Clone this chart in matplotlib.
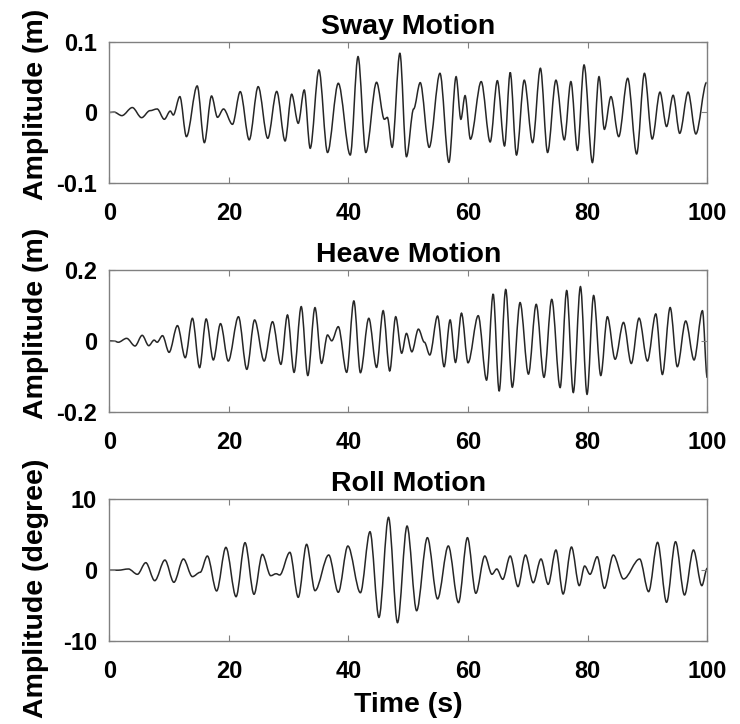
import matplotlib
matplotlib.use("Agg")
import matplotlib.pyplot as plt
from matplotlib.path import Path
from matplotlib.patches import PathPatch

# extrema (time in s, value)
sway_t = [0, 0.8, 2.1, 3.85, 5.4, 6.8, 8.0, 9.2, 10.2, 10.7, 11.8, 12.9, 14.7, 15.9,
          17.1, 18.1, 19.1, 20.6, 21.9, 23.4, 24.9, 26.5, 28.0, 29.4, 30.5, 31.6,
          32.6, 33.6, 35.06, 36.5, 38.3, 40.3, 41.6, 42.9, 44.7, 46.0, 46.5, 47.3,
          48.6, 49.7, 50.9, 52.0, 53.5, 55.3, 56.8, 58.0, 58.8, 59.5, 60.4, 62.2,
          63.7, 64.9, 66.1, 67.05, 68.1, 69.4, 70.8, 72.1, 73.3, 74.7, 76.1, 77.2,
          78.3, 79.4, 80.8, 81.9, 82.8, 83.9, 85.2, 86.7, 88.2, 89.5, 90.8, 92.1,
          93.2, 94.3, 95.4, 96.8, 98.1, 99.9]
sway_v = [0, 0.0005, -0.0045, 0.007, -0.0074, 0.0026, 0.005, -0.0097, 0.002, -0.0036,
          0.0226, -0.0344, 0.0378, -0.043, 0.0235, -0.0069, 0.005, -0.0169, 0.0297,
          -0.039, 0.0368, -0.0368, 0.030, -0.0406, 0.026, -0.0154, 0.032, -0.051,
          0.0606, -0.057, 0.0416, -0.0606, 0.0796, -0.057, 0.043, -0.0097, -0.007,
          -0.0496, 0.0843, -0.063, 0.005, 0.0425, -0.0497, 0.0558, -0.071, 0.051,
          -0.0097, 0.024, -0.038, 0.044, -0.042, 0.0453, -0.0477, 0.057, -0.0606,
          0.046, -0.043, 0.063, -0.057, 0.046, -0.039, 0.044, -0.054, 0.0677, -0.0714,
          0.051, -0.024, 0.0226, -0.0344, 0.0487, -0.0591, 0.0558, -0.0378, 0.029,
          -0.020, 0.0245, -0.0297, 0.029, -0.0306, 0.0428]

heave_t = [0, 0.9, 1.5, 2.9, 4.3, 5.5, 6.6, 7.5, 8.0, 8.9, 10.0, 11.4, 12.7, 13.9,
           15.1, 16.2, 17.4, 18.6, 19.9, 21.6, 23.0, 24.3, 25.9, 27.3, 28.7, 29.8,
           30.9, 32.1, 33.2, 34.4, 35.5, 36.5, 37.2, 38.3, 39.7, 40.9, 42.0, 43.4,
           44.7, 45.8, 46.9, 47.9, 48.9, 49.7, 50.6, 51.7, 52.7, 53.6, 54.9, 56.0,
           57.0, 57.9, 58.9, 60.0, 61.7, 63.1, 64.2, 65.2, 66.3, 67.4, 68.7, 70.1,
           71.4, 72.7, 74.0, 75.4, 76.5, 77.6, 78.8, 79.9, 81.0, 82.2, 83.3, 84.6,
           86.0, 87.3, 88.6, 90.0, 91.4, 92.5, 93.8, 95.0, 96.4, 97.8, 99.2, 100]
heave_v = [0, -0.001, -0.004, 0.007, -0.0146, 0.0155, -0.0137, 0.002, -0.004, 0.0146,
           -0.0325, 0.0429, -0.0476, 0.0636, -0.0758, 0.0617, -0.054, 0.0485, -0.057,
           0.068, -0.0805, 0.0589, -0.057, 0.054, -0.0664, 0.073, -0.089, 0.0966,
           -0.098, 0.0937, -0.0636, 0.0165, 0.0, 0.040, -0.089, 0.1126, -0.090, 0.0636,
           -0.075, 0.085, -0.085, 0.068, -0.035, 0.021, -0.031, 0.033, -0.004, -0.040,
           0.070, -0.073, 0.059, -0.061, 0.078, -0.062, 0.071, -0.111, 0.132, -0.142,
           0.145, -0.131, 0.108, -0.094, 0.103, -0.103, 0.117, -0.132, 0.142, -0.146,
           0.153, -0.151, 0.128, -0.098, 0.068, -0.052, 0.052, -0.064, 0.064, -0.057,
           0.076, -0.095, 0.094, -0.073, 0.056, -0.054, 0.085, -0.104]

roll_t = [0, 1.5, 3.2, 4.7, 6.1, 7.6, 9.3, 10.8, 12.4, 13.9, 15.2, 16.4, 17.95, 19.5,
          21.2, 22.7, 24.2, 25.6, 27.0, 27.9, 28.5, 30.2, 31.6, 33.0, 34.4, 36.7,
          38.3, 39.9, 42.0, 43.6, 45.1, 46.7, 48.2, 49.8, 51.4, 53.2, 54.9, 56.7,
          58.4, 59.9, 61.3, 62.8, 64.0, 64.8, 65.8, 67.05, 68.35, 69.6, 70.9, 72.2,
          73.4, 74.7, 75.9, 77.3, 78.6, 79.5, 80.4, 81.6, 82.8, 84.3, 86.0, 88.7,
          90.2, 91.7, 93.2, 94.7, 96.2, 97.7, 99.1, 100]
roll_v = [0, 0.0, 0.17, -0.58, 1.06, -1.48, 1.43, -1.71, 1.58, -0.91, -0.3, 2.0, -2.93,
          3.22, -3.74, 3.88, -3.4, 2.23, -0.78, -0.5, -0.68, 2.52, -3.83, 3.65, -2.89,
          2.15, -3.12, 3.41, -3.18, 5.43, -6.66, 7.46, -7.41, 6.23, -5.72, 4.59, -4.05,
          3.42, -4.58, 4.59, -3.26, 2.0, -0.58, 0.17, -1.29, 2.0, -2.32, 2.14, -1.77,
          1.58, -2.0, 2.85, -3.36, 3.27, -2.18, 0.59, -0.58, 1.9, -2.56, 2.14, -1.24,
          1.58, -3.03, 3.93, -4.53, 4.02, -3.5, 2.85, -2.18, 0.26]

titles = ["Sway Motion", "Heave Motion", "Roll Motion"]
ylabels = ["Amplitude (m)", "Amplitude (m)", "Amplitude (degree)"]
xticks = [0, 20, 40, 60, 80, 100]
yticks = [[-0.1, 0, 0.1], [-0.2, 0, 0.2], [-10, 0, 10]]
ytick_labels = [["-0.1", "0", "0.1"], ["-0.2", "0", "0.2"], ["-10", "0", "10"]]

series = [(sway_t, sway_v), (heave_t, heave_v), (roll_t, roll_v)]

plt.rcParams["font.family"] = ["Liberation Sans", "DejaVu Sans"]
plt.rcParams["font.weight"] = "bold"


def smooth_trace(ax, t, v):
    # cubic bezier between extrema with flat tangents, drawn by matplotlib
    verts = [(t[0], v[0])]
    codes = [Path.MOVETO]
    for i in range(len(t) - 1):
        dx = (t[i + 1] - t[i]) / 3.0
        verts += [(t[i] + dx, v[i]), (t[i + 1] - dx, v[i + 1]), (t[i + 1], v[i + 1])]
        codes += [Path.CURVE4] * 3
    patch = PathPatch(Path(verts, codes), facecolor="none", edgecolor="#262626", lw=1.1)
    ax.add_patch(patch)


fig = plt.figure(figsize=(7.4, 7.24), dpi=100)
boxes = [[0.1477, 0.7477, 0.808, 0.1939],
         [0.1477, 0.4314, 0.808, 0.1957],
         [0.1477, 0.1146, 0.808, 0.1957]]
label_y = [0.56, 0.62, 0.374]

for i, (t, v) in enumerate(series):
    ax = fig.add_axes(boxes[i])
    smooth_trace(ax, t, v)
    ax.set_xlim(0, 100)
    ax.set_ylim(yticks[i][0], yticks[i][-1])
    ax.set_xticks(xticks)
    ax.set_xticklabels([str(x) for x in xticks])
    ax.set_yticks(yticks[i])
    ax.set_yticklabels(ytick_labels[i])
    ax.tick_params(direction="in", length=4, width=0.8, colors="#808080",
                   labelcolor="black", labelsize=17, top=True, right=True)
    ax.tick_params(axis="x", pad=14)
    ax.tick_params(axis="y", pad=9)
    for s in ax.spines.values():
        s.set_color("#808080")
        s.set_linewidth(1.0)
    ax.set_title(titles[i], fontsize=20.5, fontweight="bold", pad=6)
    ax.set_ylabel(ylabels[i], fontsize=20.5, fontweight="bold")
    ax.yaxis.set_label_coords(-0.101, label_y[i])
    if i == 2:
        ax.set_xlabel("Time (s)", fontsize=20.5, fontweight="bold")
        ax.xaxis.set_label_coords(0.5, -0.36)

fig.savefig("out.png", dpi=100)
